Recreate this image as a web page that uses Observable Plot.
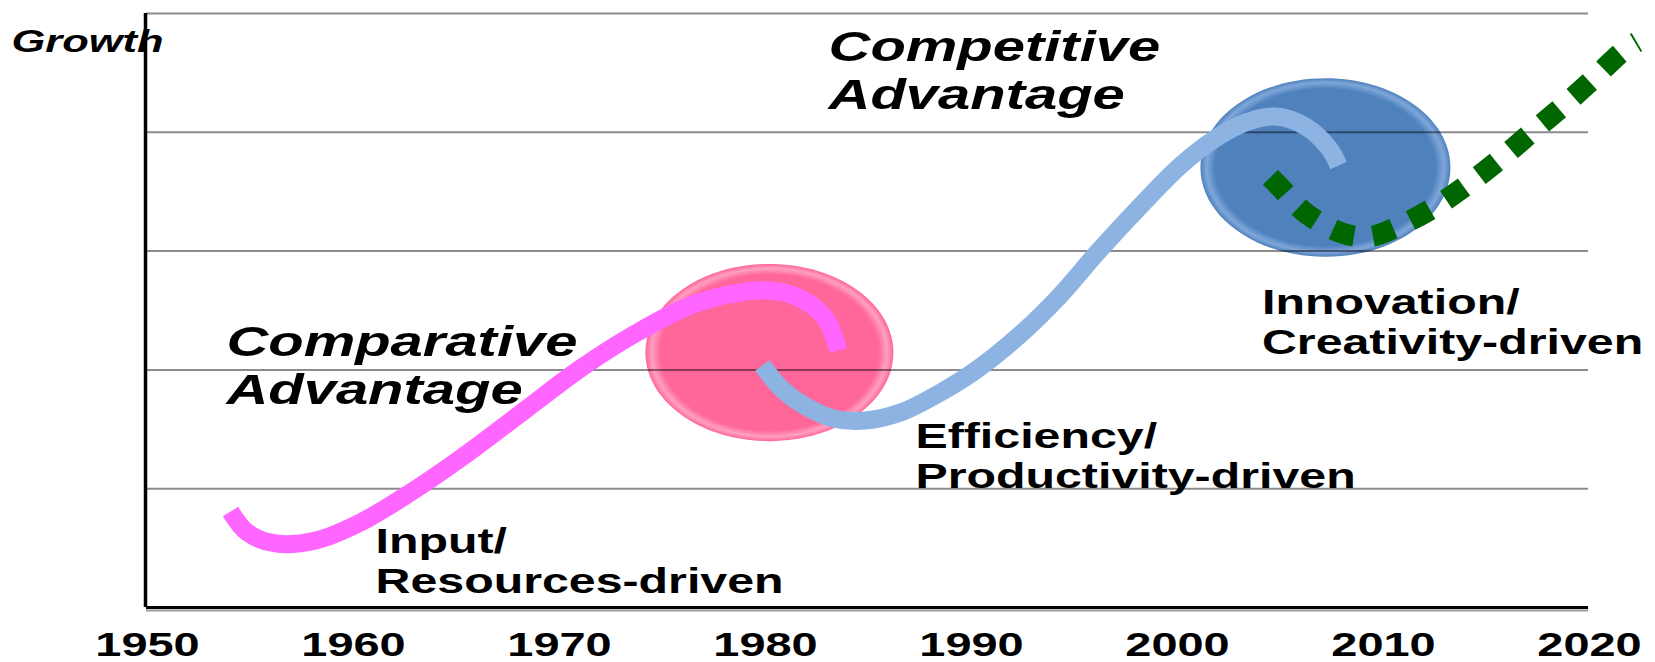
<!DOCTYPE html>
<html>
<head>
<meta charset="utf-8">
<script src="https://cdn.jsdelivr.net/npm/d3@7"></script>
<script src="https://cdn.jsdelivr.net/npm/@observablehq/plot@0.6"></script>
<style>
  html, body { margin: 0; padding: 0; background: #fff; }
  svg { display: block; }
</style>
</head>
<body>
<script>
// ---------- data ----------
const years = [1950, 1960, 1970, 1980, 1990, 2000, 2010, 2020];
const gridLevels = [1, 2, 3, 4, 5];

// Input / resources-driven curve (magenta)
const pinkYear   = [1954.03, 1954.85, 1956.21, 1958.16, 1960.34, 1962.77, 1965.19, 1968.11, 1971.02, 1973.69, 1976.36, 1978.79, 1980.24, 1981.7, 1982.91, 1983.54];
const pinkGrowth = [0.808, 0.631, 0.539, 0.564, 0.716, 0.968, 1.254, 1.633, 2.012, 2.306, 2.542, 2.652, 2.668, 2.601, 2.433, 2.163];

// Efficiency / productivity-driven curve (light blue)
const blueYear   = [1979.85, 1980.87, 1982.04, 1983.3, 1984.85, 1986.55, 1988.5, 1990.24, 1992.38, 1994.32, 1996.17, 1998.2, 2000.15, 2001.84, 2003.3, 2004.76, 2006.21, 2007.33, 2007.82];
const blueGrowth = [2.037, 1.827, 1.684, 1.591, 1.574, 1.641, 1.81, 2.0, 2.3, 2.63, 3.0, 3.38, 3.721, 3.948, 4.083, 4.133, 4.049, 3.872, 3.721];

// Innovation / creativity-driven curve (green, dotted)
const greenYear   = [2004.51, 2004.9, 2006.26, 2008.06, 2009.37, 2010.49, 2012.38, 2014.08, 2015.63, 2017.18, 2018.69, 2020.15, 2021.6, 2022.3];
const greenGrowth = [3.62, 3.552, 3.316, 3.148, 3.123, 3.19, 3.359, 3.561, 3.771, 3.998, 4.217, 4.444, 4.68, 4.76];

// highlighted stages (ellipses)
const stageYear   = [1980.19, 2007.18];
const stageGrowth = [2.146, 3.704];

// annotation texts
const headingText  = ["Comparative\nAdvantage", "Competitive\nAdvantage"];
const headingYear  = [1953.83, 1983.06];
const headingValue = [1.709, 4.192];

const stageText  = ["Input/\nResources-driven", "Efficiency/\nProductivity-driven", "Innovation/\nCreativity-driven"];
const stageTextYear  = [1961.07, 1987.28, 2004.1];
const stageTextValue = [0.126, 1.010, 2.130];

const axisTitle = "Growth";
const axisTitleYear = 1943.40;
const axisTitleValue = 4.680;

// ---------- tables ----------
const toRows = (xs, ys) => xs.map((x, i) => ({year: x, growth: ys[i]}));
const pinkData = toRows(pinkYear, pinkGrowth);
const blueData = toRows(blueYear, blueGrowth);
const greenData = toRows(greenYear, greenGrowth);
const headings = headingText.map((t, i) => ({text: t, year: headingYear[i], growth: headingValue[i]}));
const stages = stageText.map((t, i) => ({text: t, year: stageTextYear[i], growth: stageTextValue[i]}));

// ellipse symbol (rx = r, ry = r / 1.4)
const ellipseSymbol = {
  draw(context, size) {
    const r = Math.sqrt(size / Math.PI);
    const rx = r, ry = r / 1.4, k = 0.5522847498;
    context.moveTo(rx, 0);
    context.bezierCurveTo(rx, ry * k, rx * k, ry, 0, ry);
    context.bezierCurveTo(-rx * k, ry, -rx, ry * k, -rx, 0);
    context.bezierCurveTo(-rx, -ry * k, -rx * k, -ry, 0, -ry);
    context.bezierCurveTo(rx * k, -ry, rx, -ry * k, rx, 0);
    context.closePath();
  }
};

const font = "'Liberation Sans', Arial, sans-serif";

const chart = Plot.plot({
  width: 1655,
  height: 662,
  marginLeft: 147,
  marginRight: 66,
  marginTop: 13,
  marginBottom: 55,
  x: {domain: [1950, 2020], label: null},
  y: {domain: [0, 5], axis: null},
  style: {fontFamily: font, background: "white", overflow: "visible", color: "black"},
  marks: [
    // stage ellipses
    Plot.dot([{year: stageYear[0], growth: stageGrowth[0]}], {x: "year", y: "growth", r: 124, symbol: ellipseSymbol, fill: "url(#gPink)", stroke: "none"}),
    Plot.dot([{year: stageYear[1], growth: stageGrowth[1]}], {x: "year", y: "growth", r: 125, symbol: ellipseSymbol, fill: "url(#gBlue)", stroke: "none"}),
    // grid
    Plot.ruleY(gridLevels, {x1: 1950, x2: 2020, dx: -1, stroke: "black", strokeOpacity: 0.45, strokeWidth: 2}),
    // frame axes
    Plot.ruleY([0], {x1: 1950, x2: 2020, dx: -1, dy: 3, stroke: "#9a9a9a", strokeWidth: 2}),
    Plot.ruleY([0], {x1: 1950, x2: 2020, dx: -1, stroke: "black", strokeWidth: 3}),
    Plot.ruleX([1950], {y1: 0, y2: 5, dx: -2, stroke: "black", strokeWidth: 3.5}),
    // curves
    Plot.line(pinkData, {x: "year", y: "growth", stroke: "#ff66ff", strokeWidth: 18, curve: "catmull-rom", strokeLinecap: "butt", strokeLinejoin: "round"}),
    Plot.line(blueData, {x: "year", y: "growth", stroke: "#8db3e2", strokeWidth: 18, curve: "catmull-rom", strokeLinecap: "butt", strokeLinejoin: "round"}),
    Plot.line(greenData, {x: "year", y: "growth", stroke: "#006600", strokeWidth: 21, curve: "catmull-rom", strokeLinecap: "butt", strokeDasharray: "22 19"}),
    // texts
    Plot.text([axisTitle], {x: axisTitleYear, y: axisTitleValue, text: d => d, textAnchor: "start", lineAnchor: "bottom", fontSize: 31.5, fontWeight: "bold", fontStyle: "italic", fill: "black"}),
    Plot.text(headings, {x: "year", y: "growth", text: "text", textAnchor: "start", lineAnchor: "bottom", lineHeight: 1.143, fontSize: 42, fontWeight: "bold", fontStyle: "italic", fill: "black"}),
    Plot.text(stages, {x: "year", y: "growth", text: "text", textAnchor: "start", lineAnchor: "bottom", lineHeight: 1.143, fontSize: 35, fontWeight: "bold", fill: "black"}),
    Plot.axisX({ticks: years, tickFormat: d => String(d), tickSize: 0, tickPadding: 24, fontSize: 34, fontWeight: "bold", label: null})
  ]
});

document.body.append(chart);

// gradients for the 3-D look of the ellipses
const defs = d3.select(chart).insert("defs", ":first-child");
function addGradient(id, base, rim) {
  const g = defs.append("radialGradient").attr("id", id).attr("cx", "50%").attr("cy", "50%").attr("r", "50%");
  g.append("stop").attr("offset", "0%").attr("stop-color", base);
  g.append("stop").attr("offset", "88%").attr("stop-color", base);
  g.append("stop").attr("offset", "95%").attr("stop-color", rim);
  g.append("stop").attr("offset", "100%").attr("stop-color", base);
}
addGradient("gPink", "#ff6699", "#ff9fc2");
addGradient("gBlue", "#4f81bd", "#7fa7d9");

// horizontally stretched lettering, as in the original slide
const stretch = 1.38;
d3.select(chart).selectAll("text").each(function () {
  const spans = this.querySelectorAll("tspan");
  const els = spans.length ? Array.from(spans) : [this];
  els.forEach(el => {
    const L = el.getComputedTextLength();
    if (L > 0) {
      el.setAttribute("textLength", (L * stretch).toFixed(1));
      el.setAttribute("lengthAdjust", "spacingAndGlyphs");
    }
  });
});
</script>
</body>
</html>
